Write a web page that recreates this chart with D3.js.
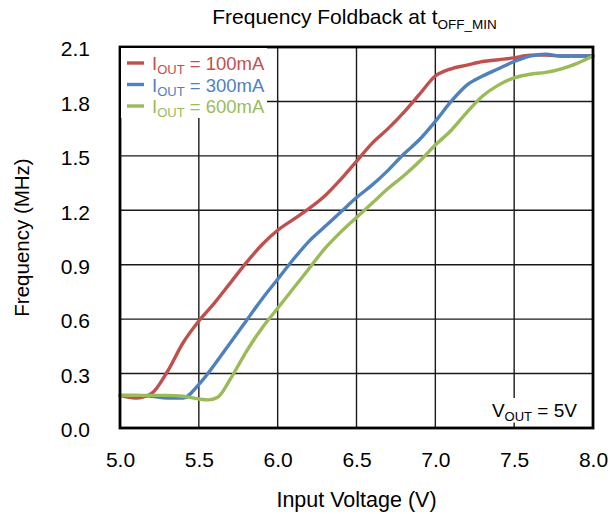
<!DOCTYPE html>
<html>
<head>
<meta charset="utf-8">
<script src="https://cdn.jsdelivr.net/npm/d3@7"></script>
<style>
  html, body { margin: 0; padding: 0; background: #fff; }
  svg { display: block; font-family: "Liberation Sans", Arial, sans-serif; }
</style>
</head>
<body>
<svg id="chart" width="615" height="514"></svg>
<script>
// ---- data ----
const vin = [5.0,5.1,5.2,5.3,5.4,5.5,5.6,5.7,5.8,5.9,6.0,6.1,6.2,6.3,6.4,6.5,6.6,6.7,6.8,6.9,7.0,7.1,7.2,7.3,7.4,7.5,7.6,7.7,7.8,7.9,8.0];
const f100 = [0.18,0.165,0.19,0.31,0.47,0.59,0.69,0.80,0.91,1.01,1.09,1.15,1.21,1.28,1.37,1.47,1.57,1.65,1.74,1.84,1.94,1.98,2.00,2.02,2.03,2.04,2.055,2.055,2.05,2.05,2.05];
const f300 = [0.18,0.18,0.175,0.165,0.165,0.24,0.35,0.47,0.59,0.71,0.82,0.93,1.03,1.11,1.19,1.27,1.34,1.42,1.51,1.59,1.69,1.80,1.89,1.94,1.98,2.02,2.05,2.06,2.05,2.05,2.05];
const vin600 = [5.0,5.1,5.2,5.3,5.4,5.5,5.56,5.62,5.7,5.8,5.9,6.0,6.1,6.2,6.3,6.4,6.5,6.6,6.7,6.8,6.9,7.0,7.1,7.2,7.3,7.4,7.5,7.6,7.7,7.8,7.9,8.0];
const f600 = [0.18,0.18,0.18,0.18,0.175,0.16,0.155,0.17,0.27,0.42,0.55,0.66,0.77,0.88,0.99,1.08,1.16,1.24,1.32,1.39,1.47,1.56,1.64,1.74,1.83,1.89,1.93,1.95,1.96,1.98,2.01,2.05];
const seriesNames = ["100mA", "300mA", "600mA"];
const seriesColors = ["#C0504D", "#4F81BD", "#9BBB59"];
const xTicks = [5.0,5.5,6.0,6.5,7.0,7.5,8.0];
const yTicks = [0.0,0.3,0.6,0.9,1.2,1.5,1.8,2.1];

// ---- layout ----
const svg = d3.select("#chart");
const L = 120, R = 593, T = 47, B = 428;
const x = d3.scaleLinear().domain([5, 8]).range([L, R]);
const y = d3.scaleLinear().domain([0, 2.1]).range([B, T]);

// grid
const grid = svg.append("g");
grid.selectAll("line.v").data(xTicks.slice(1, -1)).join("line")
  .attr("x1", d => x(d)).attr("x2", d => x(d)).attr("y1", T).attr("y2", B)
  .attr("stroke", "#1a1a1a").attr("stroke-width", 1.4);
grid.selectAll("line.h").data(yTicks.slice(1, -1)).join("line")
  .attr("y1", d => y(d)).attr("y2", d => y(d)).attr("x1", L).attr("x2", R)
  .attr("stroke", "#1a1a1a").attr("stroke-width", 1.4);

// V_OUT annotation background
const ann = svg.append("g");
ann.append("rect").attr("x", x(7.38)).attr("y", y(0.165)).attr("width", x(7.92) - x(7.38)).attr("height", y(0.03) - y(0.165)).attr("fill", "#fff");

// lines
const line = d3.line().curve(d3.curveMonotoneX);
const sets = [
  vin.map((v, i) => [x(v), y(f100[i])]),
  vin.map((v, i) => [x(v), y(f300[i])]),
  vin600.map((v, i) => [x(v), y(f600[i])])
];
svg.append("g").selectAll("path").data(sets).join("path")
  .attr("d", d => line(d))
  .attr("fill", "none")
  .attr("stroke", (d, i) => seriesColors[i])
  .attr("stroke-width", 3.4)
  .attr("stroke-linejoin", "round")
  .attr("stroke-linecap", "round");

// frame
svg.append("rect").attr("x", L).attr("y", T).attr("width", R - L).attr("height", B - T)
  .attr("fill", "none").attr("stroke", "#000").attr("stroke-width", 2.8);

// axes tick labels
const xAxis = d3.axisBottom(x).tickValues(xTicks).tickFormat(d3.format(".1f")).tickSize(0).tickPadding(24);
const gx = svg.append("g").attr("transform", `translate(0,${B})`).call(xAxis);
gx.select(".domain").remove();
gx.selectAll("text").attr("font-size", 21).attr("fill", "#000").attr("font-family", "Liberation Sans, Arial, sans-serif");

const yAxis = d3.axisLeft(y).tickValues(yTicks).tickFormat(d3.format(".1f")).tickSize(0).tickPadding(30);
const gy = svg.append("g").attr("transform", `translate(${L},0)`).call(yAxis);
gy.select(".domain").remove();
gy.selectAll("text").attr("font-size", 21).attr("fill", "#000").attr("dy", "0.42em").attr("font-family", "Liberation Sans, Arial, sans-serif");

// axis titles
svg.append("text").attr("x", (L + R) / 2).attr("y", 507).attr("text-anchor", "middle")
  .attr("font-size", 21.5).text("Input Voltage (V)");
svg.append("text").attr("transform", `translate(29,${(T + B) / 2}) rotate(-90)`).attr("text-anchor", "middle")
  .attr("font-size", 20.5).text("Frequency (MHz)");

// title
const title = svg.append("text").attr("x", (L + R) / 2 - 2).attr("y", 24).attr("text-anchor", "middle").attr("font-size", 21);
title.append("tspan").text("Frequency Foldback at t");
title.append("tspan").attr("font-size", 13.5).attr("dy", 5).text("OFF_MIN");

// V_OUT annotation
const at = ann.append("text").attr("x", x(7.93) - 5).attr("y", 417).attr("text-anchor", "end").attr("font-size", 19);
at.append("tspan").text("V");
at.append("tspan").attr("font-size", 13).attr("dy", 4).text("OUT");
at.append("tspan").attr("dy", -4).text(" = 5V");

// legend
const lg = svg.append("g");
lg.append("rect").attr("x", L + 1).attr("y", T + 1).attr("width", 146).attr("height", 70).attr("fill", "#fff");
seriesNames.forEach((name, i) => {
  const yy = 63 + i * 21.5;
  lg.append("line").attr("x1", 127).attr("x2", 144).attr("y1", yy).attr("y2", yy)
    .attr("stroke", seriesColors[i]).attr("stroke-width", 3.4);
  const t = lg.append("text").attr("x", 152).attr("y", yy + 7).attr("font-size", 18.5).attr("fill", seriesColors[i]);
  t.append("tspan").text("I");
  t.append("tspan").attr("font-size", 13).attr("dy", 4).text("OUT");
  t.append("tspan").attr("dy", -4).text(" = " + name);
});
</script>
</body>
</html>
